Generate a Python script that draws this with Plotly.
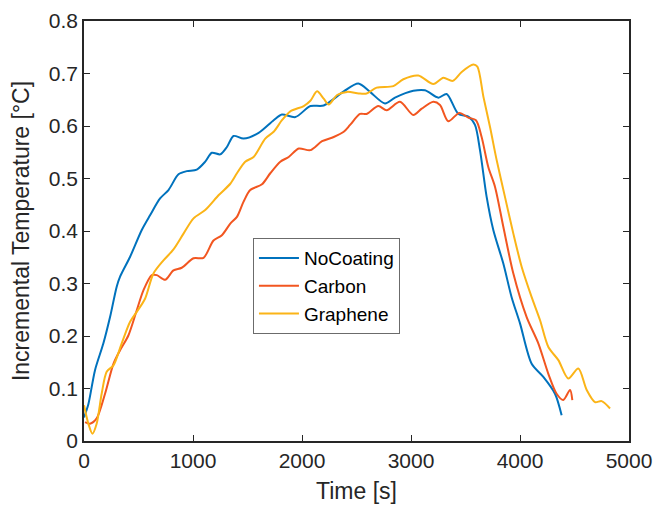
import plotly.graph_objects as go

# NoCoating
t_nc = [0, 40, 101, 178, 239, 300, 331, 423, 530, 606, 698, 775, 867, 943, 1035, 1112, 1173, 1250, 1311,
        1372, 1464, 1602, 1740, 1816, 1939, 2077, 2199, 2383, 2517, 2624, 2761, 2853, 3021, 3128, 3251,
        3327, 3434, 3526, 3587, 3633, 3694, 3755, 3847, 3923, 4000, 4107, 4214, 4321, 4382]
v_nc = [0.045, 0.07, 0.135, 0.186, 0.236, 0.294, 0.313, 0.351, 0.402, 0.430, 0.462, 0.478, 0.508, 0.514,
        0.517, 0.532, 0.549, 0.546, 0.560, 0.581, 0.576, 0.587, 0.611, 0.622, 0.617, 0.638, 0.639, 0.666,
        0.681, 0.665, 0.643, 0.654, 0.667, 0.668, 0.654, 0.661, 0.623, 0.618, 0.602, 0.554, 0.465, 0.402,
        0.338, 0.274, 0.224, 0.147, 0.122, 0.090, 0.049]

# Carbon
t_c = [10, 55, 116, 193, 270, 331, 407, 484, 545, 622, 668, 744, 821, 897, 1005, 1097, 1188, 1265, 1342,
       1403, 1464, 1525, 1633, 1709, 1801, 1878, 1970, 2077, 2184, 2291, 2383, 2441, 2532, 2593, 2700,
       2777, 2899, 3021, 3098, 3205, 3266, 3342, 3443, 3526, 3596, 3648, 3709, 3771, 3847, 3939, 4061,
       4168, 4260, 4336, 4397, 4459, 4480]
v_c = [0.036, 0.033, 0.043, 0.090, 0.147, 0.173, 0.201, 0.249, 0.287, 0.316, 0.316, 0.307, 0.325, 0.330,
       0.348, 0.349, 0.382, 0.392, 0.414, 0.427, 0.456, 0.478, 0.489, 0.510, 0.532, 0.541, 0.557, 0.554,
       0.571, 0.579, 0.589, 0.602, 0.623, 0.623, 0.638, 0.630, 0.646, 0.621, 0.633, 0.646, 0.640, 0.609,
       0.625, 0.616, 0.611, 0.579, 0.522, 0.484, 0.408, 0.319, 0.236, 0.186, 0.128, 0.090, 0.078, 0.097,
       0.078]

# Graphene
t_g = [0, 40, 77, 116, 162, 208, 270, 346, 423, 484, 560, 637, 729, 821, 913, 1005, 1112, 1234, 1342,
       1403, 1479, 1556, 1663, 1740, 1816, 1893, 2016, 2077, 2138, 2199, 2245, 2322, 2414, 2521, 2593,
       2685, 2838, 2930, 3067, 3205, 3297, 3382, 3465, 3572, 3609, 3664, 3725, 3786, 3862, 3939, 4015,
       4107, 4184, 4260, 4352, 4443, 4535, 4612, 4688, 4749, 4826]
v_g = [0.068, 0.033, 0.014, 0.033, 0.090, 0.132, 0.144, 0.186, 0.227, 0.246, 0.271, 0.319, 0.344, 0.365,
       0.395, 0.424, 0.440, 0.468, 0.490, 0.510, 0.532, 0.541, 0.576, 0.589, 0.611, 0.628, 0.638, 0.648,
       0.666, 0.652, 0.641, 0.659, 0.665, 0.662, 0.662, 0.673, 0.676, 0.689, 0.696, 0.680, 0.692, 0.686,
       0.703, 0.717, 0.713, 0.656, 0.598, 0.535, 0.465, 0.395, 0.332, 0.274, 0.230, 0.179, 0.154, 0.119,
       0.138, 0.097, 0.074, 0.076, 0.062]

x_ticks = [0, 1000, 2000, 3000, 4000, 5000]
y_ticks = [0, 0.1, 0.2, 0.3, 0.4, 0.5, 0.6, 0.7, 0.8]
y_tick_text = ["0", "0.1", "0.2", "0.3", "0.4", "0.5", "0.6", "0.7", "0.8"]

fig = go.Figure()
for name, t, v, col in [("NoCoating", t_nc, v_nc, "#0072BD"),
                        ("Carbon", t_c, v_c, "#F25620"),
                        ("Graphene", t_g, v_g, "#FBB417")]:
    fig.add_trace(go.Scatter(x=t, y=v, mode="lines", name=name,
                             line=dict(color=col, width=2, shape="spline", smoothing=0.8)))

axis_common = dict(showgrid=False, zeroline=False, showline=True, linecolor="#262626", linewidth=1.5,
                   mirror="ticks", ticks="inside", ticklen=6, tickwidth=1.2, tickcolor="#262626",
                   automargin=False,
                   tickfont=dict(family="Liberation Sans, Arial", size=21, color="#262626"))

fig.update_layout(
    width=654, height=509,
    margin=dict(l=84, r=25, t=21, b=68),
    paper_bgcolor="white", plot_bgcolor="white",
    font=dict(family="Liberation Sans, Arial", color="#262626"),
    xaxis=dict(range=[0, 5000], tickvals=x_ticks,
               title=dict(text="Time [s]", font=dict(size=23), standoff=12), **axis_common),
    yaxis=dict(range=[0, 0.8], tickvals=y_ticks, ticktext=y_tick_text,
               title=dict(text="Incremental Temperature [°C]", font=dict(size=23), standoff=13), **axis_common),
    legend=dict(x=0.31, y=0.483, xanchor="left", yanchor="top",
                bgcolor="white", bordercolor="#6b6b6b", borderwidth=1,
                font=dict(size=19, color="#000000"), itemwidth=40),
    showlegend=True,
)

fig.write_html("out.html")
